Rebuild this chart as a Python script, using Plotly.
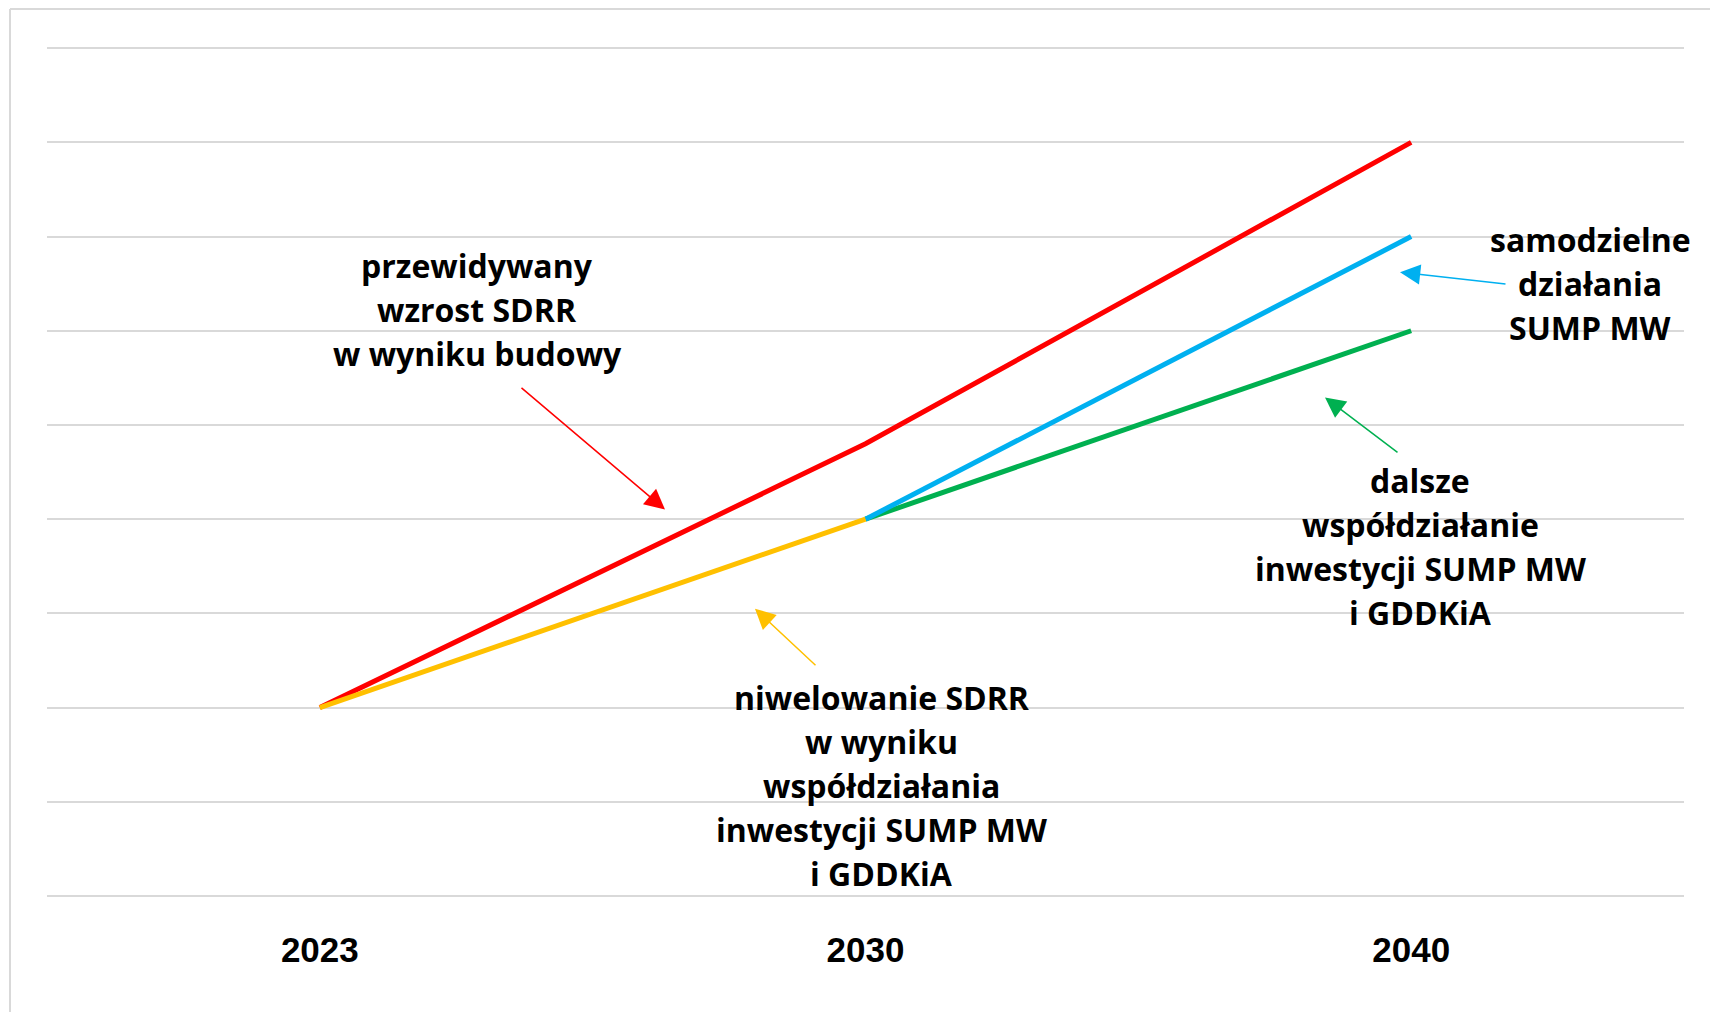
import plotly.graph_objects as go

# ---- data ----
years = ["2023", "2030", "2040"]
red_vals = [2, 4.8, 8]          # przewidywany wzrost SDRR
blue_vals = [None, 4, 7]        # samodzielne działania SUMP MW
green_vals = [None, 4, 6]       # dalsze współdziałanie
yellow_vals = [2, 4, None]      # niwelowanie SDRR

# page has an 8px body margin; figure sized to fit the window
OFF = 8
W, H = 1710, 1004
ML, MR, MT, MB = 39, 34, 40, 116
PW, PH = W - ML - MR, H - MT - MB


def px(x):
    """page pixel x -> paper x"""
    return (x - OFF - ML) / PW


def py(y):
    """page pixel y -> paper y"""
    return (H - MB - (y - OFF)) / PH


fig = go.Figure()
fig.add_trace(go.Scatter(x=years, y=red_vals, mode="lines",
                         line=dict(color="#FF0000", width=5), showlegend=False))
fig.add_trace(go.Scatter(x=years, y=green_vals, mode="lines",
                         line=dict(color="#00B050", width=5), showlegend=False))
fig.add_trace(go.Scatter(x=years, y=blue_vals, mode="lines",
                         line=dict(color="#00B0F0", width=5), showlegend=False))
fig.add_trace(go.Scatter(x=years, y=yellow_vals, mode="lines",
                         line=dict(color="#FFC000", width=5), showlegend=False))

TXT_FONT = dict(family="Open Sans", size=32, color="black")
LINE_H = 44


def add_text(lines, cx, cy_first):
    for i, t in enumerate(lines):
        fig.add_annotation(x=px(cx), y=py(cy_first + i * LINE_H), xref="paper", yref="paper",
                           text="<b>%s</b>" % t, showarrow=False, xanchor="center",
                           yanchor="middle", font=TXT_FONT)


add_text(["przewidywany", "wzrost SDRR", "w wyniku budowy"], 477, 266)
add_text(["samodzielne", "działania", "SUMP MW"], 1590, 240)
add_text(["dalsze", "współdziałanie", "inwestycji SUMP MW", "i GDDKiA"], 1420, 481)
add_text(["niwelowanie SDRR", "w wyniku", "współdziałania", "inwestycji SUMP MW", "i GDDKiA"], 882, 698)


def add_arrow(head, tail, color):
    fig.add_annotation(x=px(head[0]), y=py(head[1]), xref="paper", yref="paper",
                       ax=tail[0] - head[0], ay=tail[1] - head[1], axref="pixel", ayref="pixel",
                       text="", showarrow=True, arrowhead=2, arrowsize=2.7, arrowwidth=1.5,
                       arrowcolor=color, standoff=0)


add_arrow((665, 510), (520, 387), "#FF0000")
add_arrow((1400, 273), (1507, 285), "#00B0F0")
add_arrow((1325, 398), (1399, 454), "#00B050")
add_arrow((755, 609), (817, 667), "#FFC000")

# outer frame (left and top edges)
fig.add_shape(type="line", xref="paper", yref="paper", x0=px(10), y0=py(10), x1=px(1730), y1=py(10),
              line=dict(color="#D9D9D9", width=2))
fig.add_shape(type="line", xref="paper", yref="paper", x0=px(10), y0=py(10), x1=px(10), y1=py(1030),
              line=dict(color="#D9D9D9", width=2))

fig.update_xaxes(type="category", categoryorder="array", categoryarray=years,
                 range=[-0.5, 2.5], showgrid=False, showline=False, zeroline=False, ticks="",
                 tickfont=dict(family="Liberation Sans", size=35, color="black", weight="bold"),
                 ticklabelstandoff=30)
fig.update_yaxes(range=[0, 9.012], dtick=1, tick0=0, showticklabels=False, showgrid=True,
                 gridcolor="#D9D9D9", gridwidth=1.5, zeroline=True, zerolinecolor="#D9D9D9",
                 zerolinewidth=1.5, showline=False, ticks="")

fig.update_layout(width=W, height=H, margin=dict(l=ML, r=MR, t=MT - 1, b=MB),
                  paper_bgcolor="white", plot_bgcolor="white", showlegend=False)

fig.write_html("out.html")
